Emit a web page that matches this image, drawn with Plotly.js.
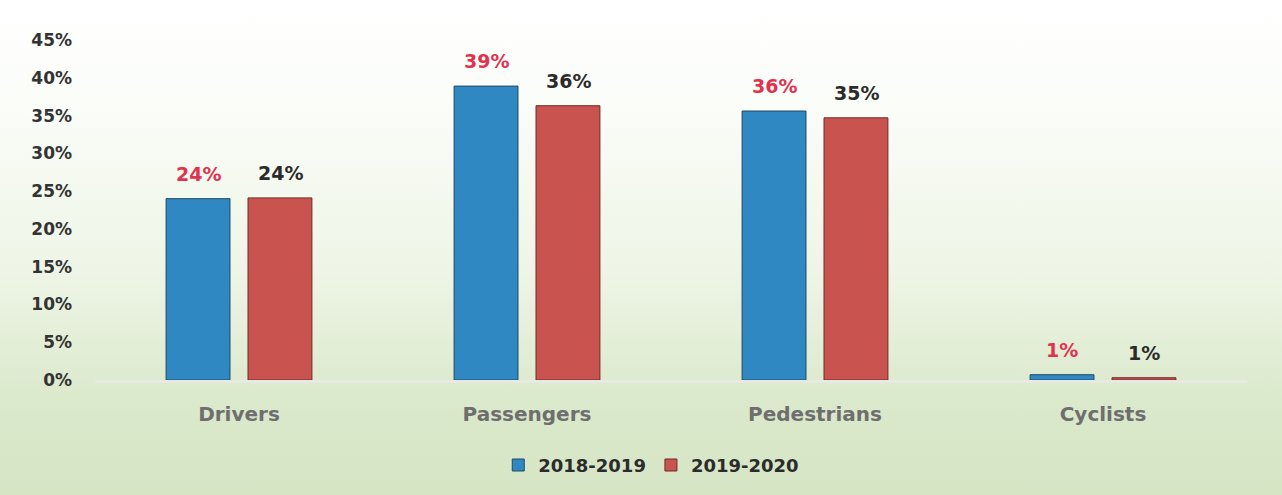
<!DOCTYPE html>
<html>
<head>
<meta charset="utf-8">
<script src="https://cdn.plot.ly/plotly-3.0.1.min.js"></script>
<style>
  html, body { margin: 0; padding: 0; }
  #chart {
    width: 1282px; height: 495px;
    background: linear-gradient(to bottom, #ffffff 0%, #fbfdf9 20%, #eef5e6 55%, #dbe9cc 80%, #d5e5c4 100%);
  }
</style>
</head>
<body>
<div id="chart"></div>
<script>
const categories = ["Drivers", "Passengers", "Pedestrians", "Cyclists"];
const series1Name = "2018-2019";
const series2Name = "2019-2020";
const series1Values = [24.0, 38.9, 35.6, 0.7];
const series2Values = [24.1, 36.3, 34.7, 0.3];
const series1Labels = ["24%", "39%", "36%", "1%"];
const series2Labels = ["24%", "36%", "35%", "1%"];
const yTickVals = [0, 5, 10, 15, 20, 25, 30, 35, 40, 45];
const yTickText = ["0%", "5%", "10%", "15%", "20%", "25%", "30%", "35%", "40%", "45%"];

const FONT = "DejaVu Sans, Verdana, sans-serif";

const traces = [
  {
    type: "bar", name: series1Name, x: categories, y: series1Values,
    marker: { color: "#2f88c2", line: { color: "#1f4a66", width: 1 } },
    hoverinfo: "skip"
  },
  {
    type: "bar", name: series2Name, x: categories, y: series2Values,
    marker: { color: "#c9534f", line: { color: "#6e2b29", width: 1 } },
    hoverinfo: "skip"
  }
];

const annotations = [];
categories.forEach((c, i) => {
  annotations.push({
    x: c, y: series1Values[i], xref: "x", yref: "y", text: series1Labels[i],
    showarrow: false, xshift: -41, yshift: 12, yanchor: "bottom",
    font: { family: FONT, size: 19, color: "#e0334f", weight: "bold" }
  });
  annotations.push({
    x: c, y: series2Values[i], xref: "x", yref: "y", text: series2Labels[i],
    showarrow: false, xshift: 41, yshift: 12, yanchor: "bottom",
    font: { family: FONT, size: 19, color: "#2b2b2b", weight: "bold" }
  });
});

const layout = {
  width: 1282, height: 495,
  paper_bgcolor: "rgba(0,0,0,0)", plot_bgcolor: "rgba(0,0,0,0)",
  margin: { l: 95, r: 35, t: 40, b: 115 },
  barmode: "group", bargap: 0.431, bargroupgap: 0.22,
  font: { family: FONT },
  xaxis: {
    showgrid: false, showline: true, linecolor: "#e6eae2", linewidth: 3,
    ticks: "", ticklabelstandoff: 14,
    tickfont: { family: FONT, size: 20, color: "#6e6e6e", weight: "bold" }
  },
  yaxis: {
    range: [0, 45], tickvals: yTickVals, ticktext: yTickText,
    showgrid: false, zeroline: false, showline: false, ticks: "",
    ticklabelstandoff: 22,
    tickfont: { family: FONT, size: 17, color: "#333333", weight: "bold" }
  },
  legend: {
    orientation: "h", xref: "container", yref: "container",
    x: 0.508, xanchor: "center", y: 0.06, yanchor: "middle",
    font: { family: FONT, size: 18, color: "#2b2b2b", weight: "bold" },
    itemwidth: 30, traceorder: "normal"
  },
  annotations: annotations,
  showlegend: true
};

Plotly.newPlot("chart", traces, layout, { displayModeBar: false, staticPlot: true });
</script>
</body>
</html>
